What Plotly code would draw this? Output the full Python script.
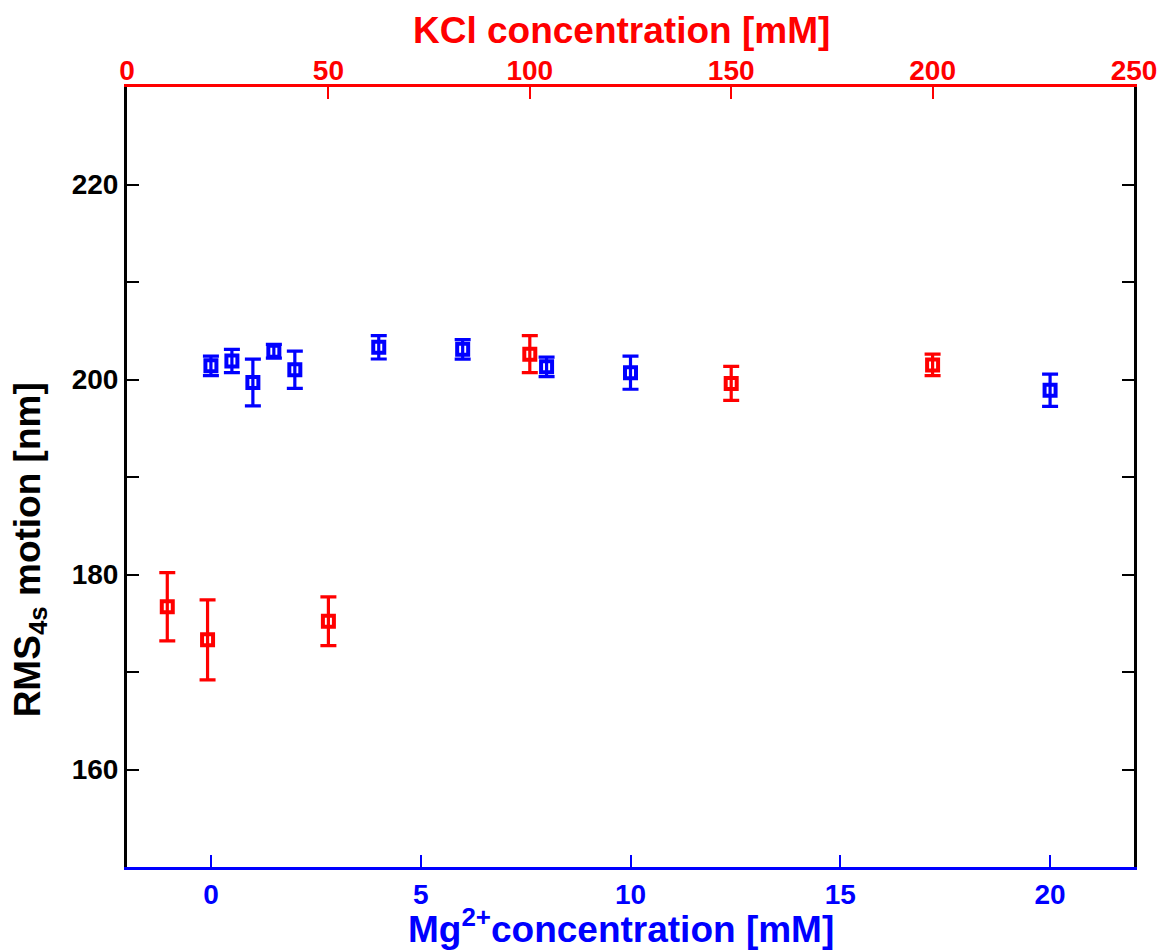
import plotly.graph_objects as go

# Data
mg_conc = [0, 0.5, 1, 1.5, 2, 4, 6, 8, 10, 20]
mg_rms = [201.4, 201.9, 199.7, 202.9, 201.0, 203.3, 203.1, 201.3, 200.7, 198.9]
mg_err = [1.0, 1.2, 2.4, 0.7, 1.9, 1.2, 1.0, 1.0, 1.7, 1.65]

kcl_conc = [10, 20, 50, 100, 150, 200]
kcl_rms = [176.7, 173.3, 175.2, 202.6, 199.6, 201.5]
kcl_err = [3.5, 4.1, 2.5, 1.9, 1.75, 1.1]

y_label_ticks = [160, 180, 200, 220]
y_all_ticks = [150, 160, 170, 180, 190, 200, 210, 220, 230]
mg_ticks = [0, 5, 10, 15, 20]
kcl_ticks = [0, 50, 100, 150, 200, 250]

BLUE = "#0000ff"
RED = "#ff0000"
FONT = "Liberation Sans, Arial, sans-serif"
TICKSIZE = 28
TITLESIZE = 37

fig = go.Figure()

fig.add_trace(go.Scatter(
    x=kcl_conc, y=kcl_rms, xaxis="x2", yaxis="y",
    mode="markers",
    marker=dict(symbol="square-open", size=11, color=RED, line=dict(width=4, color=RED)),
    error_y=dict(type="data", array=kcl_err, visible=True, color=RED, thickness=3.2, width=8),
    showlegend=False,
))

fig.add_trace(go.Scatter(
    x=mg_conc, y=mg_rms, xaxis="x", yaxis="y",
    mode="markers",
    marker=dict(symbol="square-open", size=11, color=BLUE, line=dict(width=4, color=BLUE)),
    error_y=dict(type="data", array=mg_err, visible=True, color=BLUE, thickness=3.2, width=8),
    showlegend=False,
))

fig.update_layout(
    width=1175, height=950,
    margin=dict(l=127, r=41, t=87, b=83),
    paper_bgcolor="white", plot_bgcolor="white",
    font=dict(family=FONT, size=24, color="black"),
    xaxis=dict(
        range=[-2, 22], tickvals=mg_ticks, ticks="inside", ticklen=12, tickwidth=2,
        tickcolor=BLUE, showline=True, linecolor=BLUE, linewidth=3,
        showgrid=False, zeroline=False,
        tickfont=dict(family=FONT, size=TICKSIZE, color=BLUE, weight="bold"),
    ),
    xaxis2=dict(
        range=[0, 250], tickvals=kcl_ticks, ticks="inside", ticklen=12, tickwidth=2,
        tickcolor=RED, showline=True, linecolor=RED, linewidth=3,
        overlaying="x", side="top", anchor="y",
        showgrid=False, zeroline=False, ticklabelstandoff=-7,
        tickfont=dict(family=FONT, size=TICKSIZE, color=RED, weight="bold"),
    ),
    yaxis=dict(
        range=[150, 230], tickvals=y_label_ticks,
        ticks="inside", ticklen=12, tickwidth=2, tickcolor="black",
        showline=True, linecolor="black", linewidth=3,
        showgrid=False, zeroline=False,
        tickfont=dict(family=FONT, size=TICKSIZE, color="black", weight="bold"),
    ),
    yaxis2=dict(
        range=[150, 230], tickvals=y_all_ticks, overlaying="y", side="right",
        anchor="x", showticklabels=False,
        ticks="inside", ticklen=12, tickwidth=2, tickcolor="black",
        showline=True, linecolor="black", linewidth=3,
        showgrid=False, zeroline=False,
    ),
    yaxis3=dict(
        range=[150, 230], tickvals=y_all_ticks, overlaying="y", side="left",
        anchor="x", showticklabels=False,
        ticks="inside", ticklen=12, tickwidth=2, tickcolor="black",
        showline=False, showgrid=False, zeroline=False,
    ),
    annotations=[
        dict(text="KCl concentration [mM]", xref="paper", yref="paper",
             x=0.4906, y=1.073, xanchor="center", yanchor="middle", showarrow=False,
             font=dict(family=FONT, size=TITLESIZE, color=RED, weight="bold")),
        dict(text="Mg<sup>2+</sup>concentration [mM]", xref="paper", yref="paper",
             x=0.4906, y=-0.076, xanchor="center", yanchor="middle", showarrow=False,
             font=dict(family=FONT, size=TITLESIZE, color=BLUE, weight="bold")),
        dict(text="RMS<sub>4s</sub> motion [nm]", xref="paper", yref="paper",
             x=-0.0963, y=0.406, xanchor="center", yanchor="middle", showarrow=False,
             textangle=-90,
             font=dict(family=FONT, size=TITLESIZE, color="black", weight="bold")),
    ],
)

# invisible traces so the extra y axes (right and left minor ticks) are drawn
fig.add_trace(go.Scatter(x=[None], y=[None], yaxis="y2", showlegend=False, hoverinfo="skip"))
fig.add_trace(go.Scatter(x=[None], y=[None], yaxis="y3", showlegend=False, hoverinfo="skip"))

fig.write_html("out.html")
